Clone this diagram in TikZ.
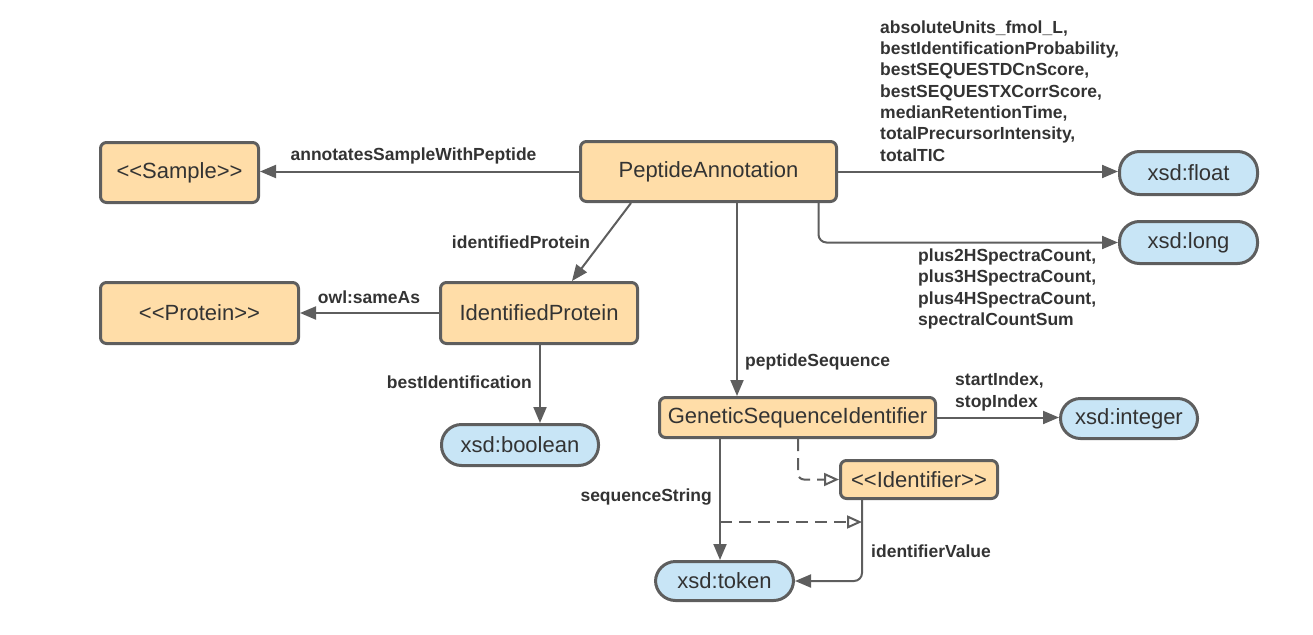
\documentclass[tikz,border=0pt]{standalone}
\usepackage{fontspec}
\setmainfont{Liberation Sans}
\usetikzlibrary{arrows.meta,calc}
\definecolor{boxfill}{HTML}{FFDDA8}
\definecolor{pillfill}{HTML}{C8E5F6}
\definecolor{edgegray}{HTML}{5E5E5E}
\definecolor{txt}{HTML}{333333}
\begin{document}
\begin{tikzpicture}[x=1pt,y=-1pt,
  cls/.style={draw=edgegray, fill=boxfill, line width=3pt, rounded corners=6pt,
    inner sep=0pt, text=txt, font=\fontsize{22}{26}\selectfont},
  pill/.style={draw=edgegray, fill=pillfill, line width=3pt, rounded corners=20pt,
    inner sep=0pt, text=txt, font=\fontsize{22}{26}\selectfont},
  arr/.style={draw=edgegray, line width=2pt, -{Triangle[length=16pt,width=13pt]}},
  sub/.style={draw=edgegray, line width=2pt, dash pattern=on 12pt off 7pt,
    -{Triangle[open,length=15pt,width=13pt,fill=white,line width=2pt]}},
  lbl/.style={text=txt, inner sep=0pt, font=\fontsize{17.5}{21.3}\selectfont\bfseries, align=left}
]
\useasboundingbox (0,0) rectangle (1313,634);
% nodes
\node[cls, minimum width=158, minimum height=60] (sample) at (179.5,172.5) {{<}{<}Sample{>}{>}};
\node[cls, minimum width=256, minimum height=60] (pa) at (708.5,171.5) {PeptideAnnotation};
\node[cls, minimum width=198, minimum height=61] (protein) at (199.5,313) {{<}{<}Protein{>}{>}};
\node[cls, minimum width=197, minimum height=61] (ip) at (539,313) {IdentifiedProtein};
\node[pill, minimum width=138, minimum height=43] (float) at (1188.5,173) {xsd:float};
\node[pill, minimum width=138, minimum height=42] (long) at (1188.5,242.5) {xsd:long};
\node[pill, minimum width=157, minimum height=41] (bool) at (520,445) {xsd:boolean};
\node[cls, minimum width=276, minimum height=40] (gsi) at (797.5,417.5) {GeneticSequenceIdentifier};
\node[pill, minimum width=137, minimum height=40] (int) at (1129,418.5) {xsd:integer};
\node[cls, minimum width=157, minimum height=38] (ident) at (919,479.5) {{<}{<}Identifier{>}{>}};
\node[pill, minimum width=138, minimum height=39] (token) at (724.5,581) {xsd:token};
% helper coordinates
\coordinate (ssmid) at (720,522);
\coordinate (ivmid) at (862,522);
% edges
\draw[arr] (pa.west) -- (pa.west -| sample.east);
\draw[arr] (pa.east) -- (pa.east -| float.west);
\draw[arr, rounded corners=8pt] ([xshift=110]pa.south) |- (long.west);
\draw[arr] ([xshift=-77.5]pa.south) -- ([xshift=33]ip.north);
\draw[arr] ([xshift=28.5]pa.south) -- ([xshift=28.5]pa.south |- gsi.north);
\draw[arr] (ip.west) -- (ip.west -| protein.east);
\draw[arr] ([xshift=1]ip.south) -- ([xshift=1]ip.south |- bool.north);
\draw[arr] (gsi.east) -- (gsi.east -| int.west);
\draw[sub, rounded corners=6pt] ([xshift=0.5]gsi.south) |- (ident.west);
\draw[arr] ([xshift=-77.5]gsi.south) -- ([xshift=-77.5]gsi.south |- token.north);
\draw[arr, rounded corners=8pt] ([xshift=-57]ident.south) |- (token.east);
\draw[sub] (ssmid) -- (ivmid);
% labels
\node[lbl] (l1) at (413.5,156) {annotatesSampleWithPeptide};
\node[lbl, anchor=west] (l2) at (880,91) {absoluteUnits\_fmol\_L,\\bestIdentificationProbability,\\bestSEQUESTDCnScore,\\bestSEQUESTXCorrScore,\\medianRetentionTime,\\totalPrecursorIntensity,\\totalTIC};
\node[lbl, anchor=west] (l3) at (918,289) {plus2HSpectraCount,\\plus3HSpectraCount,\\plus4HSpectraCount,\\spectralCountSum};
\node[lbl] (l4) at (521,242) {identifiedProtein};
\node[lbl, anchor=west] (l5) at (745,362) {peptideSequence};
\node[lbl] (l6) at (369,297) {owl:sameAs};
\node[lbl, anchor=east] (l7) at (532,382) {bestIdentification};
\node[lbl, anchor=west] (l8) at (955,392) {startIndex,\\stopIndex};
\node[lbl, anchor=east] (l9) at (712,497) {sequenceString};
\node[lbl, anchor=west] (l10) at (871,551) {identifierValue};
\end{tikzpicture}
\end{document}
